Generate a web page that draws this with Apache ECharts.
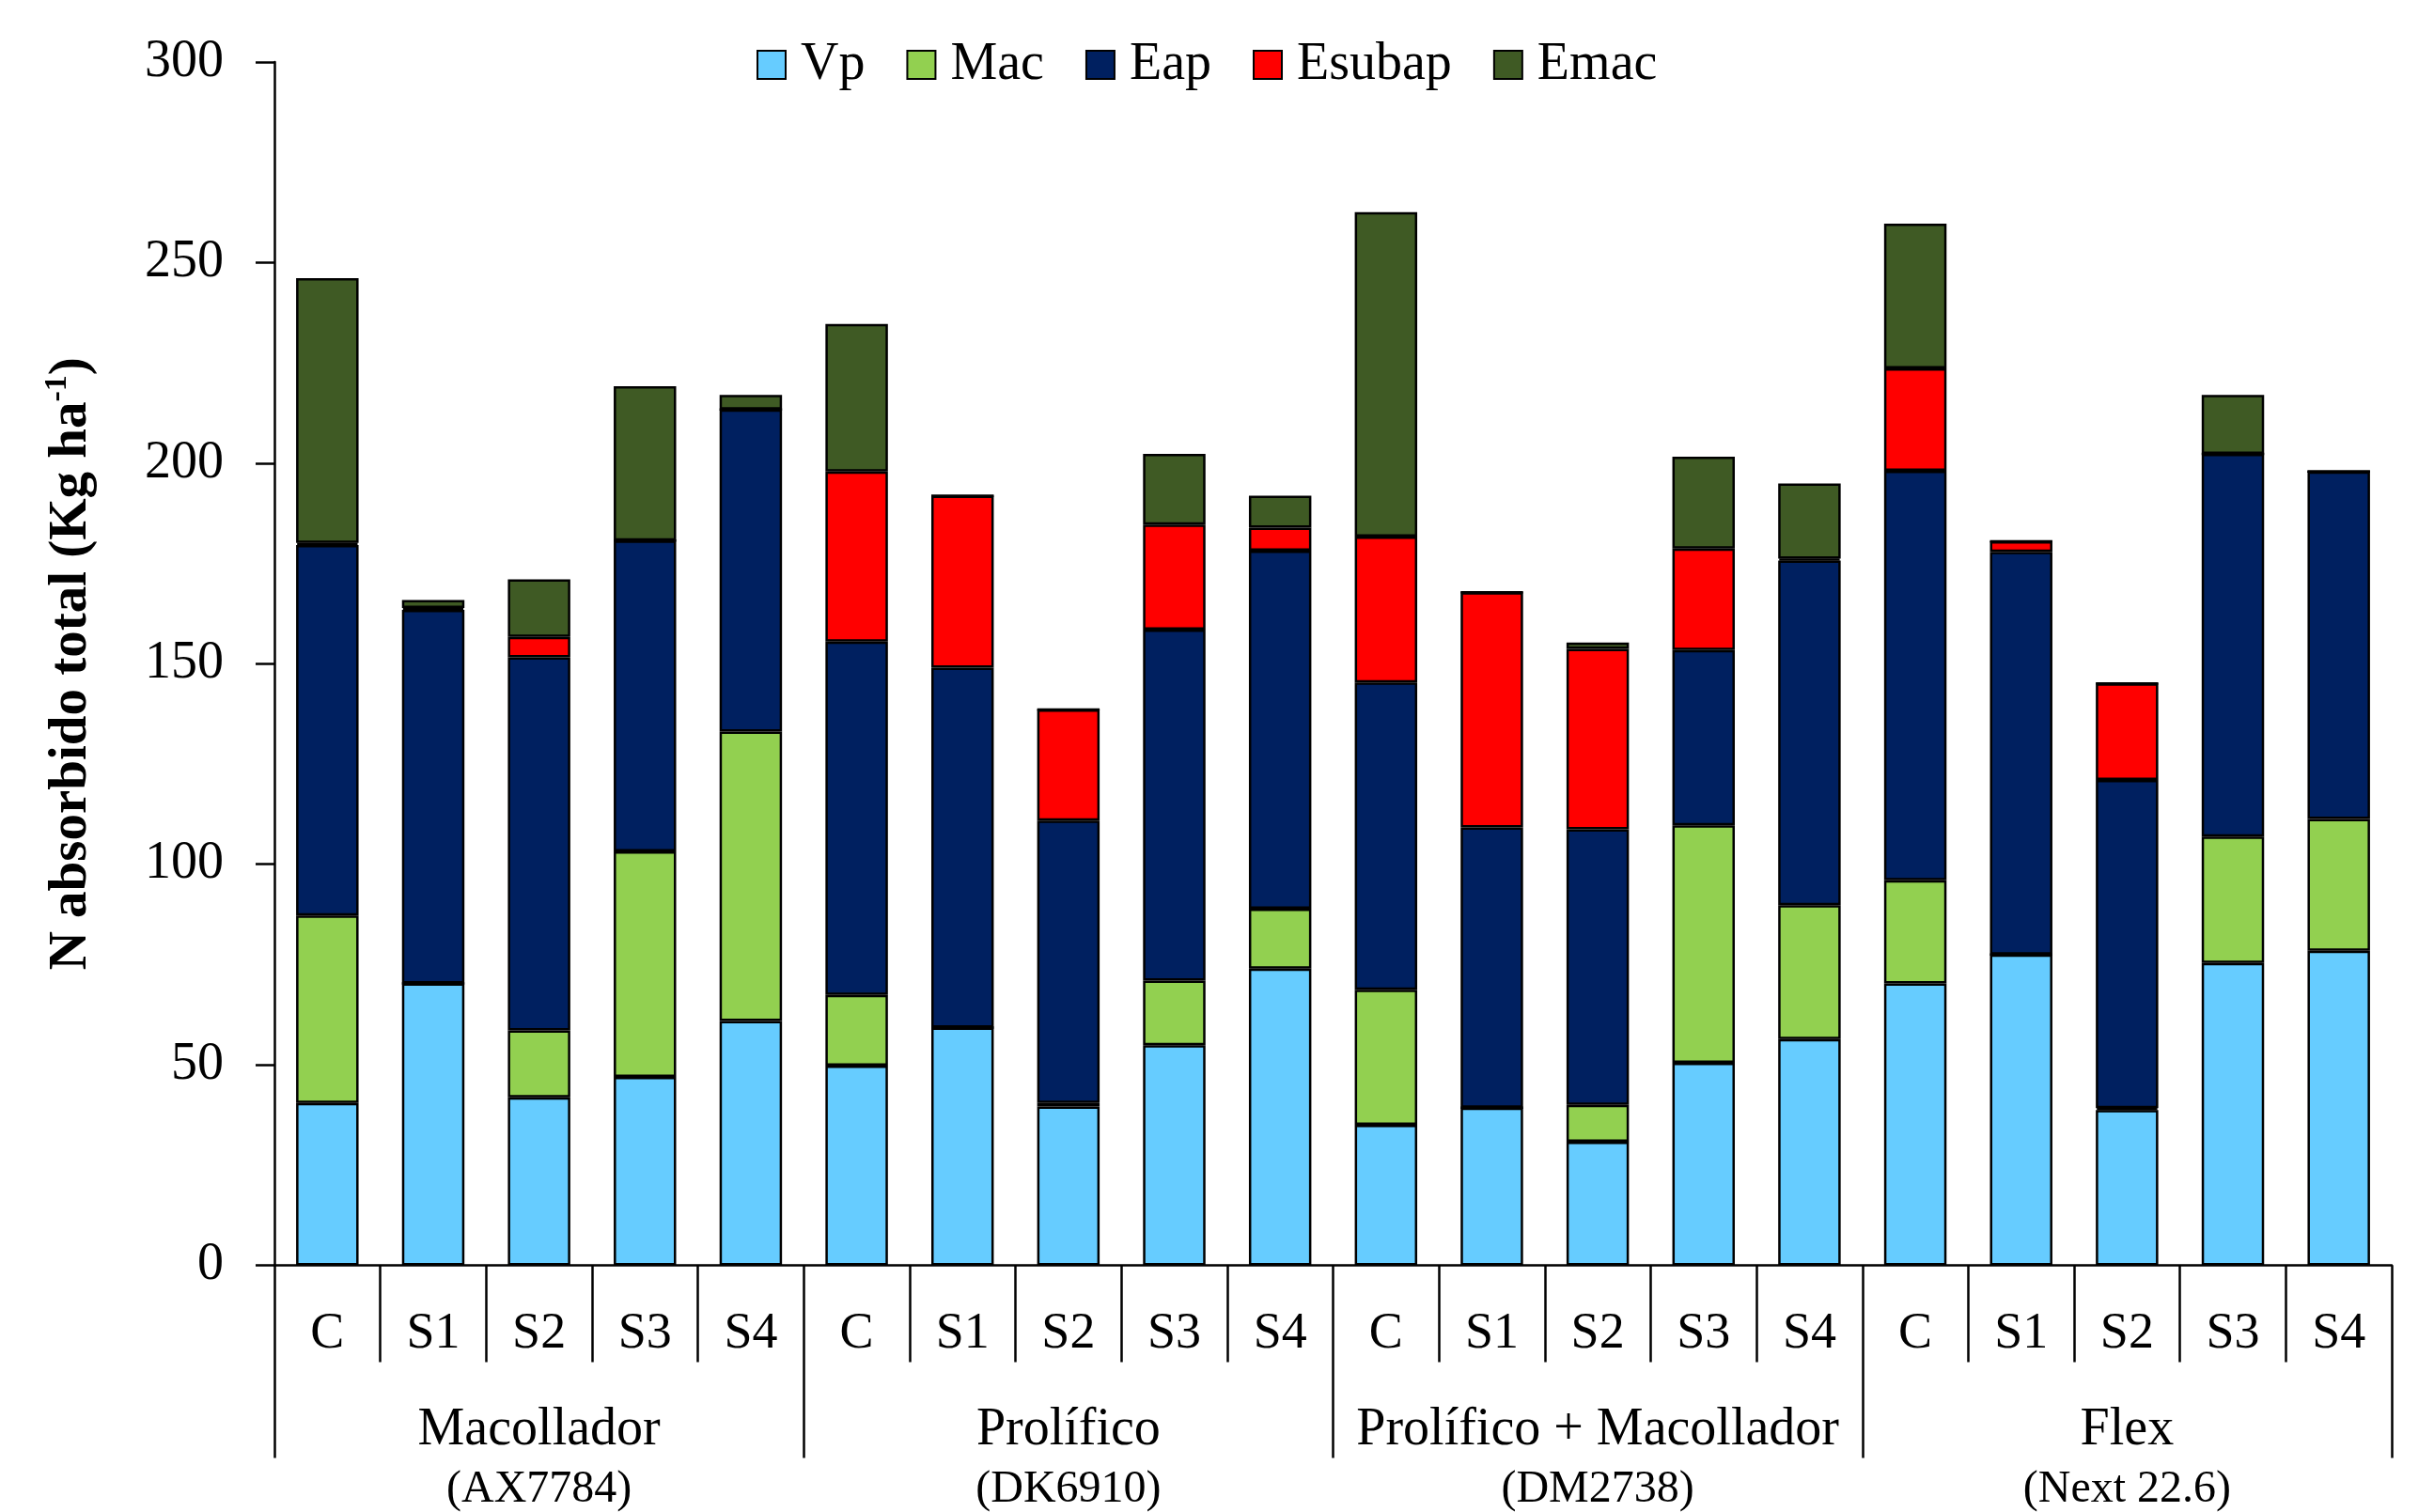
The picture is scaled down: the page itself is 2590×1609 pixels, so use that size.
<!DOCTYPE html>
<html>
<head>
    <meta charset="utf-8">
    <title>N absorbido total</title>
    <script src="https://cdn.jsdelivr.net/npm/echarts/dist/echarts.min.js"></script>
    <style>
        html, body {
            margin: 0;
            padding: 0;
            background: #ffffff;
        }
        #myChart {
            width: 2590px;
            height: 1609px;
        }
    </style>
</head>
<body>
<div id="myChart"></div>
<script>
    // categorias (tratamientos) y grupos (hibridos)
    const categories = ['C', 'S1', 'S2', 'S3', 'S4', 'C', 'S1', 'S2', 'S3', 'S4',
        'C', 'S1', 'S2', 'S3', 'S4', 'C', 'S1', 'S2', 'S3', 'S4'];
    const groupNames = ['Macollador', 'Prolífico', 'Prolífico + Macollador', 'Flex'];
    const groupCodes = ['(AX7784)', '(DK6910)', '(DM2738)', '(Next 22.6)'];
    const yTicks = [0, 50, 100, 150, 200, 250, 300];

    // valores (Kg ha-1)
    const vp = [40.5, 70.3, 41.9, 47.0, 60.9, 49.8, 59.3, 39.6, 54.9, 74.0,
        35.0, 39.3, 30.8, 50.5, 56.4, 70.3, 77.5, 38.7, 75.4, 78.4];
    const mac = [46.7, 0, 16.7, 56.2, 72.2, 17.6, 0, 0.9, 16.1, 14.9,
        33.7, 0, 9.2, 59.2, 33.4, 25.7, 0, 0.5, 31.5, 32.9];
    const eap = [92.4, 93.1, 93.0, 77.5, 80.3, 88.1, 89.7, 70.4, 87.5, 89.3,
        76.6, 69.9, 68.7, 43.7, 85.9, 102.1, 100.4, 81.8, 95.4, 86.6];
    const esubap = [0.5, 0.5, 5.1, 0, 0, 42.4, 42.9, 27.7, 26.2, 5.7,
        36.4, 58.6, 45.0, 25.3, 0.5, 25.5, 2.6, 24.1, 0, 0];
    const emac = [66.0, 2.0, 14.3, 38.5, 3.6, 36.8, 0, 0, 17.6, 8.0,
        80.9, 0, 1.6, 22.9, 18.7, 36.1, 0, 0, 14.7, 0];

    const seriesNames = ['Vp', 'Mac', 'Eap', 'Esubap', 'Emac'];
    const seriesData = [vp, mac, eap, esubap, emac];
    const colors = ['#66CCFF', '#92D050', '#002060', '#FF0000', '#3F5A24'];

    const font = 'Liberation Serif, Times New Roman, serif';

    let myChart = echarts.init(document.getElementById('myChart'));

    let option = {
        backgroundColor: '#ffffff',
        animation: false,
        textStyle: {fontFamily: font, color: '#000'},
        legend: {
            data: seriesNames,
            left: 800,
            top: 36,
            itemWidth: 30,
            itemHeight: 30,
            itemGap: 44,
            icon: 'rect',
            textStyle: {
                fontFamily: font,
                fontSize: 56,
                color: '#000',
                padding: [0, 0, 0, 11]
            }
        },
        grid: {
            left: 292,
            right: 45,
            top: 66,
            bottom: 261,
            containLabel: false
        },
        xAxis: [
            {
                type: 'category',
                position: 'bottom',
                data: categories,
                boundaryGap: true,
                axisLine: {show: true, lineStyle: {color: '#000', width: 2.5}},
                axisTick: {show: true, interval: 0, length: 103, lineStyle: {color: '#000', width: 2.5}},
                axisLabel: {
                    interval: 0,
                    margin: 46,
                    fontFamily: font,
                    fontSize: 54,
                    color: '#000'
                },
                splitLine: {show: false}
            },
            {
                type: 'category',
                position: 'bottom',
                data: groupNames,
                boundaryGap: true,
                axisLine: {show: false},
                axisTick: {show: true, interval: 0, length: 205, lineStyle: {color: '#000', width: 2.5}},
                axisLabel: {
                    interval: 0,
                    margin: 144,
                    fontFamily: font,
                    color: '#000',
                    formatter: function (value, idx) {
                        return '{a|' + value + '}\n{b|' + groupCodes[idx] + '}';
                    },
                    rich: {
                        a: {fontFamily: font, fontSize: 56, lineHeight: 63, color: '#000'},
                        b: {fontFamily: font, fontSize: 48, lineHeight: 63, color: '#000'}
                    }
                },
                splitLine: {show: false}
            }
        ],
        yAxis: {
            type: 'value',
            min: yTicks[0],
            max: yTicks[yTicks.length - 1],
            interval: 50,
            name: '{a|N absorbido total (Kg ha}{s|-1}{a|)}',
            nameLocation: 'middle',
            nameGap: 184,
            nameRotate: 90,
            nameTextStyle: {
                rich: {
                    a: {fontFamily: font, fontSize: 57, fontWeight: 'bold', lineHeight: 64, color: '#000'},
                    s: {fontFamily: font, fontSize: 34, fontWeight: 'bold', lineHeight: 34, verticalAlign: 'top', color: '#000'}
                }
            },
            axisLine: {show: true, lineStyle: {color: '#000', width: 2.5}},
            axisTick: {show: true, inside: false, length: 20, lineStyle: {color: '#000', width: 2.5}},
            axisLabel: {
                margin: 54,
                fontFamily: font,
                fontSize: 56,
                color: '#000'
            },
            splitLine: {show: false}
        },
        series: seriesNames.map(function (name, i) {
            return {
                name: name,
                type: 'bar',
                stack: 'total',
                xAxisIndex: 0,
                barCategoryGap: '41%',
                data: seriesData[i],
                itemStyle: {
                    color: colors[i],
                    borderColor: '#000',
                    borderWidth: 2.5
                }
            };
        })
    };

    // dibujar
    myChart.setOption(option);
</script>
</body>
</html>
